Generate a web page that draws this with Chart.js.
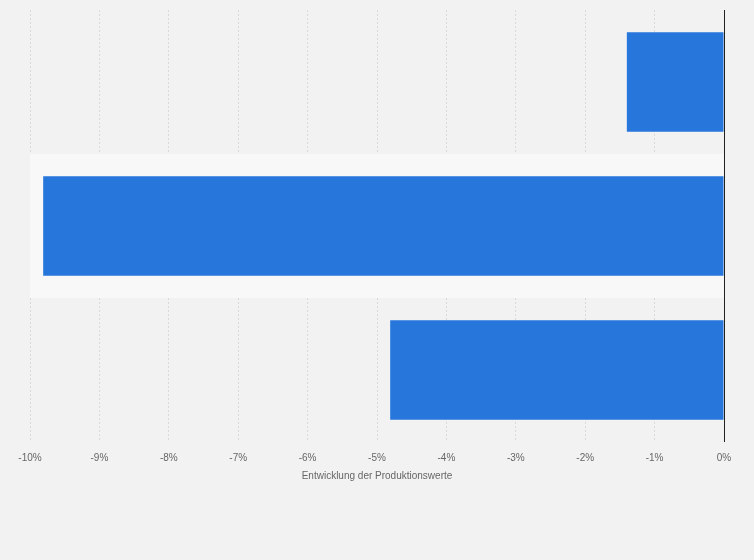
<!DOCTYPE html>
<html>
<head>
<meta charset="utf-8">
<script src="https://cdn.jsdelivr.net/npm/chart.js@4/dist/chart.umd.min.js"></script>
<style>
  html, body { margin: 0; padding: 0; background: #f2f2f2; }
  #container { width: 754px; height: 560px; }
</style>
</head>
<body>
<div id="container"><canvas id="app" width="754" height="560"></canvas></div>
<script>
const categories = ['A', 'B', 'C']
const values = [-1.4, -9.81, -4.81]
const tickMin = -10
const tickMax = 0

// lighter band behind the middle category, zero line on top
const bandPlugin = {
  id: 'band',
  beforeDatasetsDraw(chart) {
    const { ctx, chartArea, scales } = chart
    const y = scales.y
    const half = (y.getPixelForValue(1) - y.getPixelForValue(0)) / 2
    const c = y.getPixelForValue(1)
    ctx.save()
    ctx.fillStyle = '#f8f8f8'
    ctx.fillRect(chartArea.left, c - half, chartArea.right - chartArea.left, half * 2)
    ctx.restore()
  },
  afterDatasetsDraw(chart) {
    const { ctx, chartArea, scales } = chart
    const x = Math.round(scales.x.getPixelForValue(0)) + 0.5
    ctx.save()
    ctx.strokeStyle = '#222'
    ctx.lineWidth = 1
    ctx.beginPath()
    ctx.moveTo(x, chartArea.top)
    ctx.lineTo(x, chartArea.bottom)
    ctx.stroke()
    ctx.restore()
  }
}

new Chart(document.getElementById('app'), {
  type: 'bar',
  data: {
    labels: categories,
    datasets: [{
      data: values,
      backgroundColor: '#2776db',
      borderWidth: 0,
      barPercentage: 0.69,
      categoryPercentage: 1
    }]
  },
  plugins: [bandPlugin],
  options: {
    indexAxis: 'y',
    responsive: false,
    animation: false,
    layout: { padding: { top: 10, left: 30, right: 30, bottom: 78 } },
    plugins: { legend: { display: false }, tooltip: { enabled: false } },
    scales: {
      x: {
        min: tickMin,
        max: tickMax,
        ticks: {
          stepSize: 1,
          padding: 10,
          color: '#666',
          font: { family: 'Liberation Sans, Arial', size: 10 },
          callback: v => v + '%'
        },
        grid: {
          drawTicks: false,
          color: ctx => ctx.tick && ctx.tick.value === 0 ? 'rgba(0,0,0,0)' : '#d9d9d9'
        },
        border: { display: false, dash: [2, 2] },
        title: {
          display: true,
          text: 'Entwicklung der Produktionswerte',
          color: '#666',
          font: { family: 'Liberation Sans, Arial', size: 10 },
          padding: { top: -4, bottom: 0 }
        }
      },
      y: {
        display: false
      }
    }
  }
})
</script>
</body>
</html>
